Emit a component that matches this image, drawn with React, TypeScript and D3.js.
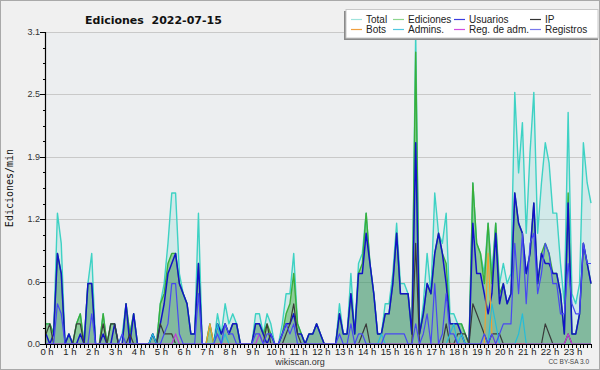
import React from "react";
import * as d3 from "d3";

const hourLabels = ["0 h","1 h","2 h","3 h","4 h","5 h","6 h","7 h","8 h","9 h","10 h","11 h","12 h","13 h","14 h","15 h","16 h","17 h","18 h","19 h","20 h","21 h","22 h","23 h"];
const yTickValues = [0, 0.62, 1.24, 1.86, 2.48, 3.1];
const yTickLabels = ["0.0", "0.6", "1.2", "1.9", "2.5", "3.1"];
const legendNames = ["Total", "Ediciones", "Usuarios", "IP", "Bots", "Admins.", "Reg. de adm.", "Registros"];

const total = [
  .2,.2,.1,1.3,1.0,0, .1,0,.2,.3,0,.6, .9,0,0,.3,0,.2, .2,0,.1,.4,.1,.3,
  0,0,0,0,.1,0, .4,.6,1.0,1.5,1.5,.7, .5,.4,.1,.1,1.3,0, 0,.2,0,.3,.1,.4,
  .2,.3,.2,0,0,0, 0,.3,.3,.1,.3,.2, 0,0,.2,.5,.5,.9, .2,.1,0,.1,.1,.2,
  .1,0,0,0,0,.4, .1,.1,.7,.1,.8,.9, 1.3,.8,.5,.1,.1,.4, .4,.7,1.2,.6,.6,.5,
  .1,3.1,.1,.4,.9,.5, 1.5,1.1,1.0,1.3,.3,.3, .2,.2,.1,0,1.6,1.0, .9,.7,1.2,.7,1.2,.6,
  .8,.6,.7,2.5,1.7,2.2, 1.1,1.9,2.5,1.1,1.6,2.0, 1.8,1.3,1.3,.8,.4,2.3, .5,.4,.6,2.0,1.6,1.4,
];
const ediciones = [
  .2,.2,.1,.9,.7,0, .1,0,.2,.3,0,.6, .6,0,0,.3,0,.2, .2,0,0,.4,.1,.3,
  0,0,0,0,.1,0, .4,.5,.8,.9,.9,.6, .5,.4,.1,.1,.8,0, 0,.2,0,.2,.1,.2,
  .1,.2,.2,0,0,0, 0,.2,.2,.1,.2,.1, 0,0,.1,.3,.4,.7, .2,.1,0,.1,.1,.2,
  .1,0,0,0,0,.3, .1,.1,.5,.1,.7,.8, 1.3,.8,.5,.1,.1,.3, .3,.6,1.1,.5,.5,.5,
  .1,2.9,.1,.3,.6,.5, .9,1.1,.9,.8,.2,.2, .2,.2,.1,0,1.6,1.0, .9,.6,1.2,.6,1.2,.5,
  .6,.4,.5,1.5,1.2,1.1, .7,.9,1.4,.6,.9,1.0, .9,.7,.7,.5,.1,1.5, .1,.1,.3,1.0,.8,.6,
];
const usuarios = [
  .1,0,.1,.9,.7,0, .1,0,0,.1,0,.6, .6,0,0,.1,0,0, .2,0,0,.4,0,.3,
  0,0,0,0,.1,0, .2,.4,.7,.8,.9,.6, .5,.4,.1,.1,.8,0, 0,0,0,.2,.1,.2,
  .1,.2,.2,0,0,0, 0,.2,.2,.1,0,.1, 0,0,.1,.2,.2,.3, .1,.1,0,.1,.1,.2,
  .1,0,0,0,0,.3, .1,.1,.5,.1,.7,.7, 1.1,.8,.5,.1,.1,.3, .3,.6,1.1,.5,.5,.5,
  .1,2.0,.1,.3,.6,.5, .9,1.1,.9,.6,.2,.2, .2,.1,0,0,1.2,.7, .7,.5,.3,.5,1.1,.4,
  .6,.4,.5,1.5,1.2,1.1, .7,.9,1.4,.6,.9,.8, .8,.7,.7,.5,.1,1.4, .1,.1,.3,1.0,.8,.6,
];
const ip = [
  .1,.2,0,0,0,0, 0,0,.2,.2,0,0, 0,0,0,.2,0,.2, .2,0,0,0,.1,0,
  0,0,0,0,0,0, .2,.1,.1,.1,0,0, 0,0,0,0,0,0, 0,0,0,0,0,0,
  0,0,0,0,0,0, 0,0,0,0,.2,0, 0,0,0,.1,.2,.4, .1,0,0,0,0,0,
  0,0,0,0,0,0, 0,0,0,0,0,.1, .2,0,0,0,0,0, 0,0,0,0,0,0,
  0,1.0,0,0,0,0, 0,0,0,.2,0,0, .1,.1,.1,0,.4,.3, .2,.1,0,.1,.1,.1,
  0,0,0,0,0,0, 0,0,0,0,0,.2, .1,0,0,0,0,.1, 0,0,0,0,0,0,
];
const bots = [
  0,0,0,0,0,0, 0,0,0,0,0,0, 0,0,0,0,0,0, 0,0,0,0,0,0,
  0,0,0,0,0,0, 0,0,0,0,0,0, 0,0,0,0,0,0, 0,.2,0,0,0,0,
  0,0,0,0,0,0, 0,0,0,0,0,0, 0,0,0,0,0,0, 0,0,0,0,0,0,
  0,0,0,0,0,0, 0,0,0,0,0,0, 0,0,0,0,0,0, 0,0,0,0,0,0,
  0,0,0,0,0,0, 0,0,0,0,0,0, 0,0,0,0,0,0, 0,0,.9,.1,0,0,
  0,0,0,0,0,0, 0,0,0,0,0,0, 0,0,0,0,0,0, 0,0,0,0,0,0,
];
const admins = [
  0,0,0,0,0,0, 0,0,0,0,0,0, 0,0,0,0,0,0, 0,0,0,0,0,0,
  0,0,0,0,.1,0, 0,0,0,0,0,0, 0,0,0,0,0,0, 0,0,0,.2,0,.1,
  0,0,0,0,0,0, 0,0,0,0,0,0, 0,0,0,0,0,0, 0,0,0,0,0,0,
  0,0,0,0,0,0, 0,0,0,0,0,0, 0,0,0,0,.1,0, 0,0,0,0,0,0,
  0,0,0,0,0,0, 0,0,0,0,.1,.2, 0,.1,0,0,0,0, 0,0,0,.4,.2,0,
  0,0,0,0,.1,.3, 0,0,0,0,0,0, 0,0,0,0,0,0, 0,0,0,0,0,0,
];
const regAdm = [
  0,0,0,0,0,0, 0,0,0,0,0,0, 0,0,0,0,0,0, 0,0,0,0,0,0,
  0,0,0,0,0,0, 0,0,0,0,.1,0, 0,0,0,0,0,0, 0,0,0,0,0,0,
  0,0,0,0,0,0, 0,0,.1,0,0,0, 0,0,0,0,0,0, 0,0,0,0,0,0,
  0,0,0,0,0,0, 0,0,0,0,0,0, 0,0,0,0,0,0, 0,0,0,0,0,0,
  0,0,0,0,0,0, 0,0,0,0,0,0, 0,0,0,0,0,0, 0,0,0,0,0,0,
  0,0,0,0,0,0, 0,0,0,0,0,0, 0,0,0,0,0,.1, 0,0,0,0,0,0,
];
const registros = [
  0,0,0,.4,.3,0, 0,0,0,0,0,0, .3,0,0,0,0,0, 0,0,.1,0,0,0,
  0,0,0,0,0,0, 0,.1,.2,.6,.6,.1, 0,0,0,0,.5,0, 0,0,0,.1,0,.2,
  .1,.1,0,0,0,0, 0,.1,.1,0,.1,.1, 0,0,.1,.2,.1,.2, 0,0,0,0,0,0,
  0,0,0,0,0,.1, 0,0,.2,0,.1,.1, 0,0,0,0,0,.1, .1,.1,.1,.1,.1,0,
  0,.2,0,.1,.3,0, .6,0,.1,.5,.1,.1, 0,0,0,0,0,0, 0,.1,0,.1,0,.1,
  .2,.2,.2,1.0,.5,1.1, .4,1.0,1.1,.5,.7,1.0, .9,.6,.6,.3,.3,.8, .4,.3,.3,1.0,.8,.8,
];

const X0 = 46, X1 = 591, Y0 = 344, Y1 = 32;

export default function App() {
  const x = d3.scaleLinear().domain([0, 143]).range([X0, X1]);
  const y = d3.scaleLinear().domain([0, 3.1]).range([Y0, Y1]);
  const line = d3.line<number>().x((_, i) => x(i)).y((d) => y(d));
  const area = d3.area<number>().x((_, i) => x(i)).y0(y(0)).y1((d) => y(d));

  const series = [
    { data: total, color: "#3ed2c4", legend: "#9fe3dc", fill: "rgba(70,212,196,0.16)", w: 1.4 },
    { data: ediciones, color: "#3aae3a", legend: "#8ed68e", fill: "rgba(62,168,62,0.45)", w: 1.4 },
    { data: usuarios, color: "#1212c8", legend: "#3c3ce0", fill: "rgba(0,0,190,0.09)", w: 1.5 },
    { data: ip, color: "#3a3a3a", legend: "#333333", w: 1.2 },
    { data: bots, color: "#f0a030", legend: "#f0a040", w: 1.2 },
    { data: admins, color: "#26bcd8", legend: "#52c8e0", w: 1.2 },
    { data: regAdm, color: "#c03cd8", legend: "#d04ce0", w: 1.2 },
    { data: registros, color: "#4848f2", legend: "#7878ec", w: 1.2 },
  ];

  const minorTicks = d3.range(0, 21).map((k) => k * 0.155);
  const xTicks = d3.range(0, 144);
  const legendCols = [351, 393, 454, 530];
  const legendRows = [23, 33];

  return (
    <svg width={600} height={370} style={{ position: "absolute", left: 0, top: 0, display: "block" }}>
      <defs>
        <clipPath id="plotclip">
          <rect x={X0} y={Y1 - 1} width={X1 - X0 + 1} height={Y0 - Y1 + 1} />
        </clipPath>
      </defs>
      <rect x={0.5} y={0.5} width={599} height={369} fill="#f0f0f0" stroke="#a9a9a9" />
      <rect x={X0} y={Y1} width={X1 - X0} height={Y0 - Y1} fill="#eceef0" />
      {yTickValues.slice(1).map((v) => (
        <line key={v} x1={X0} x2={X1} y1={Math.round(y(v)) + 0.5} y2={Math.round(y(v)) + 0.5} stroke="#c9c9c9" strokeWidth={1} />
      ))}
      <g clipPath="url(#plotclip)">
        {series.filter((s) => s.fill).map((s, k) => (
          <path key={"a" + k} d={area(s.data) || ""} fill={s.fill} stroke="none" />
        ))}
        {series.map((s, k) => (
          <path key={"l" + k} d={line(s.data) || ""} fill="none" stroke={s.color} strokeWidth={s.w} strokeLinejoin="round" />
        ))}
      </g>
      <line x1={X0 - 0.5} x2={X0 - 0.5} y1={Y1} y2={Y0 + 1} stroke="#000" strokeWidth={1.2} />
      <line x1={X0 - 1} x2={X1} y1={Y0 + 0.5} y2={Y0 + 0.5} stroke="#000" strokeWidth={1.2} />
      {minorTicks.map((v, k) => (
        <line key={"m" + k} x1={k % 4 === 0 ? X0 - 6 : X0 - 3} x2={X0} y1={Math.round(y(v)) + 0.5} y2={Math.round(y(v)) + 0.5} stroke="#000" strokeWidth={1} />
      ))}
      {yTickValues.map((v, k) => (
        <text key={"yl" + k} x={X0 - 6} y={y(v) + 3} textAnchor="end" fontFamily="Liberation Sans, Arial, sans-serif" fontSize={9} fill="#333">
          {yTickLabels[k]}
        </text>
      ))}
      {xTicks.map((i) => (
        <line key={"xt" + i} x1={Math.round(x(i)) + 0.5} x2={Math.round(x(i)) + 0.5} y1={Y0} y2={Y0 + 4} stroke="#000" strokeWidth={1} />
      ))}
      {hourLabels.map((h, k) => (
        <text key={"xl" + k} x={x(k * 6) + 1} y={Y0 + 11} textAnchor="middle" fontFamily="Liberation Sans, Arial, sans-serif" fontSize={9.5} fill="#222">
          {h}
        </text>
      ))}
      <text x={85} y={23.5} xmlSpace="preserve" style={{ whiteSpace: "pre" }} fontFamily="DejaVu Sans, sans-serif" fontWeight="bold" fontSize={11} fill="#111">
        {"Ediciones  2022-07-15"}
      </text>
      <text transform={`translate(13,${188}) rotate(-90)`} textAnchor="middle" fontFamily="DejaVu Sans Mono, monospace" fontSize={10} fill="#111">
        Ediciones/min
      </text>
      <rect x={344} y={11} width={254} height={29} fill="#8a8a8a" />
      <rect x={346} y={9.5} width={252} height={28.5} fill="#ffffff" stroke="#c8c8c8" strokeWidth={1} />
      {legendNames.map((n, k) => {
        const cx = legendCols[k % 4];
        const cy = legendRows[Math.floor(k / 4)];
        return (
          <g key={"lg" + k}>
            <line x1={cx} x2={cx + 11} y1={cy - 3.5} y2={cy - 3.5} stroke={series[k].legend} strokeWidth={1.2} />
            <text x={cx + 15} y={cy} fontFamily="Liberation Sans, Arial, sans-serif" fontSize={10} fill="#222">
              {n}
            </text>
          </g>
        );
      })}
      <text x={300} y={365} textAnchor="middle" fontFamily="Liberation Sans, Arial, sans-serif" fontSize={9} fill="#333">
        wikiscan.org
      </text>
      <text x={589} y={364} textAnchor="end" fontFamily="Liberation Sans, Arial, sans-serif" fontSize={6.5} fill="#444">
        CC BY-SA 3.0
      </text>
    </svg>
  );
}
